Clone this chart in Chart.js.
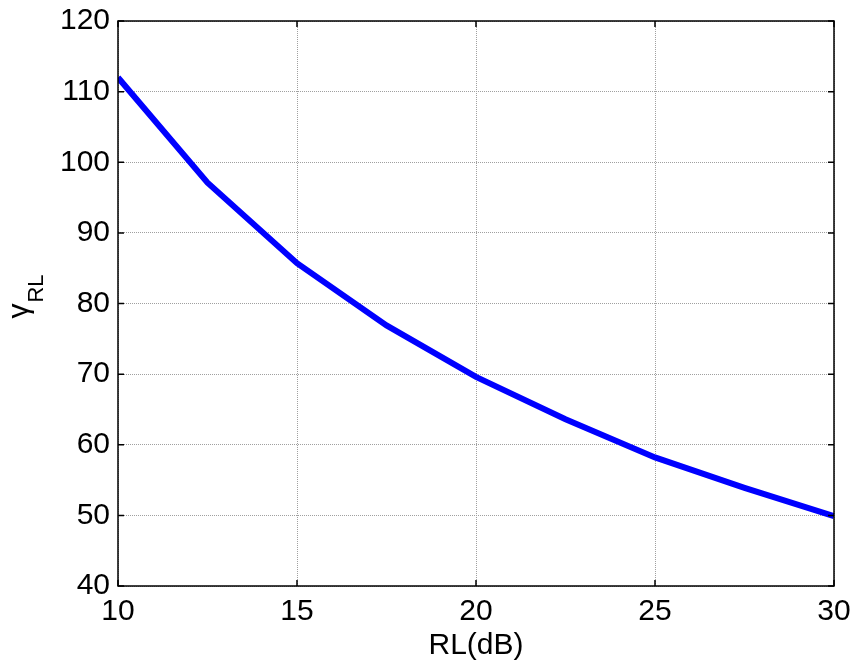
<!DOCTYPE html>
<html>
<head>
<meta charset="utf-8">
<script src="https://cdn.jsdelivr.net/npm/chart.js@4.4.1/dist/chart.umd.min.js"></script>
<style>
  body { margin:0; background:#fff; }
  #wrap { width:857px; height:666px; }
</style>
</head>
<body>
<div id="wrap"><canvas id="c" width="857" height="666"></canvas></div>
<script>
// RL (dB) vs gamma_RL
const rlDb = [10, 12.5, 15, 17.5, 20, 22.5, 25, 27.5, 30]
const gammaRL = [112, 97.1, 85.7, 76.9, 69.6, 63.6, 58.2, 53.9, 49.9]
const xTicks = [10, 15, 20, 25, 30]
const yTicks = [40, 50, 60, 70, 80, 90, 100, 110, 120]

const FONT = 'Liberation Sans, Arial, sans-serif'
const gridOpts = { color:'#a0a0a0', lineWidth:1, drawTicks:false }

// MATLAB-style box, inward ticks and the gamma_RL label with subscript
const axesBox = {
  id:'axesBox',
  afterDraw(chart) {
    const { ctx, chartArea:a, scales } = chart
    const tl = 6
    ctx.save()
    ctx.setLineDash([])
    ctx.strokeStyle = '#000'
    ctx.lineWidth = 1.5
    ctx.strokeRect(a.left, a.top, a.right - a.left, a.bottom - a.top)
    ctx.beginPath()
    yTicks.forEach(v => {
      const y = scales.y.getPixelForValue(v)
      ctx.moveTo(a.left, y); ctx.lineTo(a.left + tl, y)
      ctx.moveTo(a.right, y); ctx.lineTo(a.right - tl, y)
    })
    xTicks.forEach(v => {
      const x = scales.x.getPixelForValue(v)
      ctx.moveTo(x, a.bottom); ctx.lineTo(x, a.bottom - tl)
      ctx.moveTo(x, a.top); ctx.lineTo(x, a.top + tl)
    })
    ctx.stroke()

    // y title: gamma with RL subscript, rotated
    ctx.translate(30, 297)
    ctx.rotate(-Math.PI / 2)
    ctx.fillStyle = '#000'
    ctx.textBaseline = 'alphabetic'
    ctx.font = '30px ' + FONT
    const gw = ctx.measureText('γ').width
    ctx.font = '22px ' + FONT
    const sw = ctx.measureText('RL').width
    const x0 = -(gw + sw) / 2
    ctx.font = '30px ' + FONT
    ctx.fillText('γ', x0, -2)
    ctx.font = '22px ' + FONT
    ctx.fillText('RL', x0 + gw + 1, 13)
    ctx.restore()
  }
}

new Chart(document.getElementById('c'), {
  type:'scatter',
  data:{
    datasets:[{
      label:'gamma_RL',
      data:rlDb.map((x, i) => ({ x, y:gammaRL[i] })),
      showLine:true,
      borderColor:'#0000FF',
      backgroundColor:'#0000FF',
      borderWidth:6,
      pointRadius:0,
      tension:0
    }]
  },
  options:{
    responsive:false, animation:false,
    layout:{ padding:{ left:0, top:21, right:23, bottom:0 } },
    plugins:{ legend:{display:false}, tooltip:{enabled:false} },
    scales:{
      x:{
        type:'linear', min:10, max:30,
        afterBuildTicks:s => { s.ticks = xTicks.map(v => ({ value:v })) },
        afterFit:s => { s.height = 80; s.paddingLeft = 0; s.paddingRight = 0 },
        grid:gridOpts,
        border:{ display:false, dash:[1,1] },
        ticks:{ color:'#000', font:{ family:FONT, size:30 }, padding:8, maxRotation:0 },
        title:{ display:true, text:'RL(dB)', color:'#000', font:{ family:FONT, size:30 }, padding:{ top:0, bottom:2 } }
      },
      y:{
        type:'linear', min:40, max:120,
        afterBuildTicks:s => { s.ticks = yTicks.map(v => ({ value:v })) },
        afterFit:s => { s.width = 118; s.paddingTop = 0; s.paddingBottom = 0 },
        grid:gridOpts,
        border:{ display:false, dash:[1,1] },
        ticks:{ color:'#000', font:{ family:FONT, size:30 }, padding:8 }
      }
    }
  },
  plugins:[axesBox]
})
</script>
</body>
</html>
